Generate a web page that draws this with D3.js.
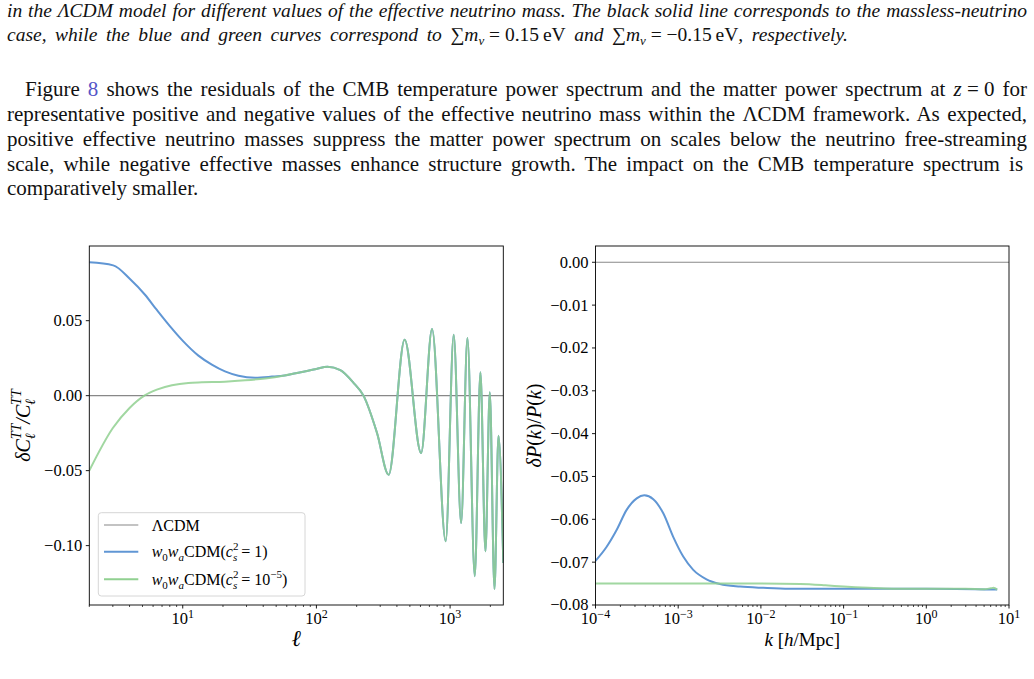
<!DOCTYPE html>
<html><head><meta charset="utf-8">
<script src="https://cdn.jsdelivr.net/npm/d3@7"></script>
<style>body{margin:0;background:#fff} svg{display:block}</style>
</head><body>
<svg id="c" width="1034" height="679"></svg>
<script>
// ---------------- DATA ----------------
// Left panel: CMB TT residuals vs multipole ell
const cmbEllBlueLow = [2, 3.02, 4.03, 5.22, 6.38, 8.04, 10.1, 13.1, 16.5, 20.7, 26.1, 34.8, 46.4];
const cmbBlueLow    = [0.0889, 0.0869, 0.0778, 0.0673, 0.0573, 0.0462, 0.0362, 0.0267, 0.0207, 0.0162, 0.0133, 0.0120, 0.0127];
const cmbEllGreenLow = [2, 3.0, 4.0, 5.2, 6.4, 8.3, 11.0, 13.9, 20.7, 29.3, 41.4];
const cmbGreenLow    = [-0.0500, -0.0216, -0.0082, 0.0002, 0.0040, 0.0069, 0.0085, 0.0089, 0.0093, 0.0102, 0.0115];
// shared high-ell part (both curves coincide)
const cmbEllHigh = [57.7, 70, 85, 100, 121, 151, 190, 225, 284, 347, 457, 607, 733, 927, 1064, 1209, 1348, 1529, 1686, 1838, 1981, 2148, 2301, 2500];
const cmbHigh    = [0.0135, 0.0150, 0.0165, 0.0178, 0.0193, 0.0170, 0.0084, 0.0000, -0.0249, -0.0527, 0.0373, -0.0382, 0.0444, -0.0971, 0.0407, -0.0849, 0.0384, -0.1204, 0.0156, -0.1038, 0.0022, -0.1289, -0.0267, -0.1116];

// Right panel: matter power spectrum residuals vs k
const pkKBlue = [1e-4, 1.365e-4, 1.80e-4, 2.38e-4, 3.15e-4, 3.89e-4, 5.0e-4, 6.6e-4, 8.7e-4, 1.15e-3, 1.52e-3, 2.2e-3, 3.2e-3, 5.6e-3, 1.07e-2, 2.2e-2, 0.1, 1, 7.2];
const pkBlue  = [-0.0697, -0.0664, -0.0625, -0.0578, -0.0551, -0.0544, -0.0553, -0.0586, -0.0641, -0.0687, -0.0718, -0.0740, -0.0751, -0.0757, -0.0760, -0.0762, -0.0762, -0.0762, -0.0764];
const pkKGreen = [1e-4, 1e-3, 1e-2, 3e-2, 6e-2, 0.1, 0.2, 0.4, 1, 3, 5, 6, 6.5, 7.2];
const pkGreen  = [-0.0750, -0.0750, -0.0750, -0.0751, -0.0754, -0.0757, -0.0760, -0.0762, -0.0762, -0.0762, -0.0763, -0.0761, -0.0760, -0.0764];

const leftYTicks = [0.05, 0.00, -0.05, -0.10];
const rightYTicks = [0.00, -0.01, -0.02, -0.03, -0.04, -0.05, -0.06, -0.07, -0.08];
const leftXDecades = [1, 2, 3];
const rightXDecades = [-4, -3, -2, -1, 0, 1];

const captionLines = [
  "in the \u039BCDM model for different values of the effective neutrino mass. The black solid line corresponds to the massless-neutrino"
];
const bodyLines = [
  "representative positive and negative values of the effective neutrino mass within the \u039BCDM framework. As expected,",
  "positive effective neutrino masses suppress the matter power spectrum on scales below the neutrino free-streaming",
  "scale, while negative effective masses enhance structure growth.  The impact on the CMB temperature spectrum is",
  "comparatively smaller."
];

// ---------------- STYLE ----------------
const BLUE = "#6096d4", GREEN = "#91d091", GRAY = "#888888";
const SERIF = "Liberation Serif, Times New Roman, serif";
const MS = "\u2005"; // math space (not stretched by justification)

const svg = d3.select("#c");
svg.append("rect").attr("width",1034).attr("height",679).attr("fill","#fff");

function rich(sel, segs){
  let cur = 0;
  segs.forEach(s => {
    const target = s.dy || 0;
    const t = sel.append("tspan").text(s.t);
    if (target - cur !== 0) t.attr("dy", target - cur);
    cur = target;
    if (s.it) t.attr("font-style","italic");
    else if (s.up) t.attr("font-style","normal");
    if (s.fs) t.attr("font-size", s.fs);
    if (s.dx) t.attr("dx", s.dx);
    if (s.fill) t.attr("fill", s.fill);
  });
  return sel;
}
// justify a line to a target width by adjusting word spacing
function justify(t, width){
  const node = t.node();
  const nat = node.getComputedTextLength();
  const spaces = (node.textContent.match(/ /g) || []).length;
  if (spaces > 0) t.attr("word-spacing", ((width - nat) / spaces).toFixed(3));
}

// ---------------- TEXT ----------------
const cap = svg.append("g").attr("font-family", SERIF).attr("font-style","italic").attr("font-size",19.5).attr("fill","#111");
justify(cap.append("text").attr("x",7).attr("y",17).text(captionLines[0]), 1020);
{
  const t = cap.append("text").attr("x",7).attr("y",41);
  rich(t, [
    {t:"case, while the blue and green curves correspond to "},
    {t:"\u2211", up:1},
    {t:"m", it:1},
    {t:"\u03BD", it:1, fs:13, dy:4},
    {t:MS + "=" + MS + "0.15\u2009eV", up:1},
    {t:" and "},
    {t:"\u2211", up:1},
    {t:"m", it:1},
    {t:"\u03BD", it:1, fs:13, dy:4},
    {t:MS + "=" + MS + "\u22120.15\u2009eV", up:1},
    {t:", respectively."}
  ]);
  justify(t, 841);
}
const body = svg.append("g").attr("font-family", SERIF).attr("font-size",21).attr("fill","#111");
{
  const t = body.append("text").attr("x",25).attr("y",96);
  rich(t, [
    {t:"Figure "},
    {t:"8", fill:"#5555c8"},
    {t:" shows the residuals of the CMB temperature power spectrum and the matter power spectrum at "},
    {t:"z", it:1},
    {t:MS + "=" + MS + "0 for"}
  ]);
  justify(t, 1002);
}
bodyLines.forEach((l,i) => {
  const t = body.append("text").attr("x",7).attr("y",121 + i*24.8).text(l);
  if (i < 3) justify(t, 1020);
});

// ---------------- PANELS ----------------
function logTicks(d0, d1){
  const out = [];
  for (let e = Math.floor(Math.log10(d0)); e <= Math.ceil(Math.log10(d1)); e++){
    for (let k = 1; k <= 9; k++){
      const v = k * Math.pow(10, e);
      if (v >= d0*0.9999 && v <= d1*1.0001) out.push({v, major: k===1, e});
    }
  }
  return out;
}
function supNum(n){ return n < 0 ? "\u2212" + Math.abs(n) : String(n); }
function fmt(v){ const s = Math.abs(v).toFixed(2); return (v < -1e-9 ? "\u2212" : "") + s; }

function panel(cfg){
  const g = svg.append("g");
  const x = d3.scaleLog().domain(cfg.xd).range([cfg.x0, cfg.x1]);
  const y = d3.scaleLinear().domain(cfg.yd).range([cfg.y1, cfg.y0]);
  const id = "clip" + cfg.name;
  svg.append("defs").append("clipPath").attr("id", id)
    .append("rect").attr("x",cfg.x0).attr("y",cfg.y0).attr("width",cfg.x1-cfg.x0).attr("height",cfg.y1-cfg.y0);
  const plot = g.append("g").attr("clip-path", `url(#${id})`);
  // zero line (LCDM reference)
  plot.append("line").attr("x1",cfg.x0).attr("x2",cfg.x1).attr("y1",y(0)).attr("y2",y(0))
    .attr("stroke",GRAY).attr("stroke-width",1.1);
  const line = d3.line().x(d=>x(d[0])).y(d=>y(d[1])).curve(d3.curveMonotoneX);
  plot.append("path").datum(cfg.blue).attr("d",line).attr("fill","none").attr("stroke",BLUE).attr("stroke-width",2);
  plot.append("path").datum(cfg.green).attr("d",line).attr("fill","none").attr("stroke",GREEN).attr("stroke-opacity",0.85).attr("stroke-width",2);
  // frame
  g.append("rect").attr("x",cfg.x0).attr("y",cfg.y0).attr("width",cfg.x1-cfg.x0).attr("height",cfg.y1-cfg.y0)
    .attr("fill","none").attr("stroke","#000").attr("stroke-width",0.9);
  // y ticks
  const ty = g.append("g").attr("font-family",SERIF).attr("font-size",16.5).attr("fill","#000");
  cfg.yticks.forEach(v => {
    ty.append("line").attr("x1",cfg.x0-3.5).attr("x2",cfg.x0).attr("y1",y(v)).attr("y2",y(v)).attr("stroke","#000").attr("stroke-width",0.9);
    ty.append("text").attr("x",cfg.x0-7).attr("y",y(v)).attr("dy","0.33em").attr("text-anchor","end").text(fmt(v));
  });
  // x ticks
  const tx = g.append("g").attr("font-family",SERIF).attr("font-size",16.5).attr("fill","#000");
  logTicks(cfg.xd[0], cfg.xd[1]).forEach(t => {
    const px = x(t.v);
    tx.append("line").attr("x1",px).attr("x2",px).attr("y1",cfg.y1).attr("y2",cfg.y1 + (t.major?3.5:2))
      .attr("stroke","#000").attr("stroke-width", t.major?0.9:0.7);
    if (t.major && cfg.xdec.includes(t.e)){
      const txt = tx.append("text").attr("x",px).attr("y",cfg.y1+19).attr("text-anchor","middle");
      rich(txt, [{t:"10"},{t:supNum(t.e), fs:12, dy:-6.5}]);
    }
  });
  // x label
  const xl = g.append("text").attr("x",(cfg.x0+cfg.x1)/2).attr("y",cfg.y1+41).attr("text-anchor","middle")
    .attr("font-family",SERIF).attr("font-size",cfg.xlfs).attr("fill","#000");
  rich(xl, cfg.xlabel);
  // y label
  const yl = g.append("text").attr("transform",`translate(${cfg.ylx},${(cfg.y0+cfg.y1)/2}) rotate(-90)`)
    .attr("text-anchor","middle").attr("font-family",SERIF).attr("font-size",20).attr("fill","#000");
  rich(yl, cfg.ylabel);
  return {g, x, y};
}

const blueLeft = cmbEllBlueLow.map((l,i)=>[l, cmbBlueLow[i]]).concat(cmbEllHigh.map((l,i)=>[l, cmbHigh[i]]));
const greenLeft = cmbEllGreenLow.map((l,i)=>[l, cmbGreenLow[i]]).concat(cmbEllHigh.map((l,i)=>[l, cmbHigh[i]]));

panel({
  name:"L", xd:[2,2500], yd:[-0.1396, 0.0998], x0:89.3, x1:503.3, y0:246, y1:605,
  yticks:leftYTicks, xdec:leftXDecades, blue:blueLeft, green:greenLeft, ylx:30, xlfs:23,
  xlabel:[{t:"\u2113", it:1}],
  ylabel:[{t:"\u03B4C", it:1},{t:"\u2113", it:1, fs:14, dy:5},{t:"TT", it:1, fs:14, dy:-9, dx:-6},
          {t:"/C", it:1},{t:"\u2113", it:1, fs:14, dy:5},{t:"TT", it:1, fs:14, dy:-9, dx:-6}]
});

panel({
  name:"R", xd:[1e-4,10], yd:[-0.08, 0.0038], x0:595.5, x1:1009, y0:246, y1:605,
  yticks:rightYTicks, xdec:rightXDecades,
  blue:pkKBlue.map((k,i)=>[k,pkBlue[i]]), green:pkKGreen.map((k,i)=>[k,pkGreen[i]]), ylx:541, xlfs:19,
  xlabel:[{t:"k", it:1},{t:" [", up:1},{t:"h", it:1},{t:"/Mpc]", up:1}],
  ylabel:[{t:"\u03B4P", it:1},{t:"(", up:1},{t:"k", it:1},{t:")/", up:1},{t:"P", it:1},{t:"(", up:1},{t:"k", it:1},{t:")", up:1}]
});

// ---------------- LEGEND (left panel) ----------------
const lg = svg.append("g").attr("font-family",SERIF).attr("font-size",16).attr("fill","#000");
lg.append("rect").attr("x",98.3).attr("y",512.7).attr("width",206.7).attr("height",83.3).attr("rx",3)
  .attr("fill","#fff").attr("fill-opacity",0.8).attr("stroke","#d6d6d6").attr("stroke-width",1);
const legendRows = [
  {c:GRAY, w:1.1, segs:[{t:"\u039BCDM"}]},
  {c:BLUE, w:2, segs:[{t:"w",it:1},{t:"0",fs:11,dy:4},{t:"w",it:1},{t:"a",it:1,fs:11,dy:4},{t:"CDM("},{t:"c",it:1},
     {t:"2",fs:11,dy:-7},{t:"s",it:1,fs:11,dy:4,dx:-5.5},{t:" = 1)"}]},
  {c:GREEN, w:2, segs:[{t:"w",it:1},{t:"0",fs:11,dy:4},{t:"w",it:1},{t:"a",it:1,fs:11,dy:4},{t:"CDM("},{t:"c",it:1},
     {t:"2",fs:11,dy:-7},{t:"s",it:1,fs:11,dy:4,dx:-5.5},{t:" = 10"},{t:"\u22125",fs:11,dy:-7},{t:")"}]}
];
const rowY = [525, 551.7, 579.3];
legendRows.forEach((r,i) => {
  lg.append("line").attr("x1",104).attr("x2",138.3).attr("y1",rowY[i]).attr("y2",rowY[i]).attr("stroke",r.c).attr("stroke-width",r.w);
  const t = lg.append("text").attr("x",151.7).attr("y",rowY[i]+5.5);
  rich(t, r.segs);
});
</script>
</body></html>
